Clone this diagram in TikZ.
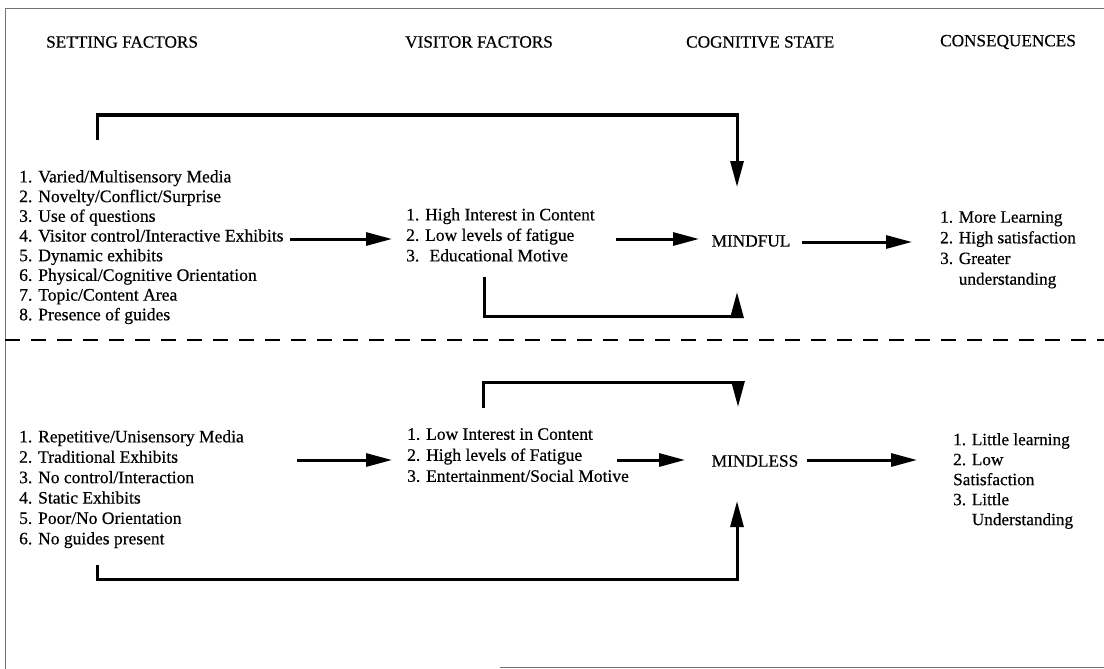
\documentclass[tikz,border=0pt]{standalone}
\usepackage{fontspec}
\setmainfont{Liberation Serif}[FakeBold=0.5]
\usetikzlibrary{arrows.meta}
\begin{document}
\begin{tikzpicture}[x=1pt,y=-1pt,
  hdr/.style={font=\fontsize{17.2}{20}\selectfont, inner sep=0, anchor=west},
  state/.style={font=\fontsize{17.3}{20}\selectfont, inner sep=0},
  lst/.style={align=left, anchor=north west, inner sep=0},
  arr/.style={line width=3pt, -{Triangle[length=26pt,width=13pt]}},
  frame/.style={line width=0.8pt, draw=black!55},
  sep/.style={line width=1.5pt, dash pattern=on 15pt off 11pt}]
\useasboundingbox (0,0) rectangle (1104,669);

% frame
\coordinate (ftl) at (5,8);
\coordinate (ftr) at (1104,8);
\coordinate (fbl) at (5,669);
\coordinate (fb1) at (500,667);
\coordinate (fb2) at (1104,667);
\draw[frame] (ftr) -- (ftl) -- (fbl);
\draw[frame] (fb1) -- (fb2);

% headers
\node[hdr] (h1) at (46,42) {SETTING FACTORS};
\node[hdr] (h2) at (405,42) {VISITOR FACTORS};
\node[hdr] (h3) at (686,42) {COGNITIVE STATE};
\node[hdr] (h4) at (940,42) {CONSEQUENCES};

% upper half
\node[lst, font=\fontsize{17.6}{19.7}\selectfont] (s1) at (19,170) {1. Varied/Multisensory Media\\2. Novelty/Conflict/Surprise\\3. Use of questions\\4. Visitor control/Interactive Exhibits\\5. Dynamic exhibits\\6. Physical/Cognitive Orientation\\7. Topic/Content Area\\8. Presence of guides};
\node[lst, font=\fontsize{17.5}{20.5}\selectfont] (v1) at (406,208) {1. High Interest in Content\\2. Low levels of fatigue\\3.~ Educational Motive};
\node[state] (mindful) at (751,241) {MINDFUL};
\node[lst, font=\fontsize{17.2}{20.7}\selectfont] (c1) at (940,211) {1. More Learning\\2. High satisfaction\\3. Greater\\\phantom{3. }understanding};

\coordinate (a1s) at (290,239);
\coordinate (a1e) at (392,239);
\draw[arr] (a1s) -- (a1e);
\coordinate (a2s) at (616,239);
\coordinate (a2e) at (699,239);
\draw[arr] (a2s) -- (a2e);
\coordinate (a3s) at (802,242);
\coordinate (a3e) at (912,242);
\draw[arr] (a3s) -- (a3e);

\coordinate (l1s) at (97,140);
\coordinate (l1e) at (737,187);
\draw[arr] (l1s) |- (737,115) -- (l1e);
\coordinate (l2s) at (484,277);
\coordinate (l2e) at (737,292);
\draw[arr] (l2s) |- (737,316) -- (l2e);

% separator
\coordinate (d1) at (5,340);
\coordinate (d2) at (1104,340);
\draw[sep] (d1) -- (d2);

% lower half
\node[lst, font=\fontsize{17.5}{20.4}\selectfont] (s2) at (19,430) {1. Repetitive/Unisensory Media\\2. Traditional Exhibits\\3. No control/Interaction\\4. Static Exhibits\\5. Poor/No Orientation\\6. No guides present};
\node[lst, font=\fontsize{17.5}{21}\selectfont] (v2) at (407,428) {1. Low Interest in Content\\2. High levels of Fatigue\\3. Entertainment/Social Motive};
\node[state] (mindless) at (755,461) {MINDLESS};
\node[lst, font=\fontsize{17.2}{20}\selectfont] (c2) at (953,433) {1. Little learning\\2. Low\\Satisfaction\\3. Little\\\phantom{3. }Understanding};

\coordinate (b1s) at (297,460);
\coordinate (b1e) at (392,460);
\draw[arr] (b1s) -- (b1e);
\coordinate (b2s) at (617,460);
\coordinate (b2e) at (685,460);
\draw[arr] (b2s) -- (b2e);
\coordinate (b3s) at (807,460);
\coordinate (b3e) at (917,460);
\draw[arr] (b3s) -- (b3e);

\coordinate (m1s) at (483,408);
\coordinate (m1e) at (738,407);
\draw[arr] (m1s) |- (738,382) -- (m1e);
\coordinate (m2s) at (97,565);
\coordinate (m2e) at (737,501);
\draw[arr] (m2s) |- (737,579) -- (m2e);
\end{tikzpicture}
\end{document}
